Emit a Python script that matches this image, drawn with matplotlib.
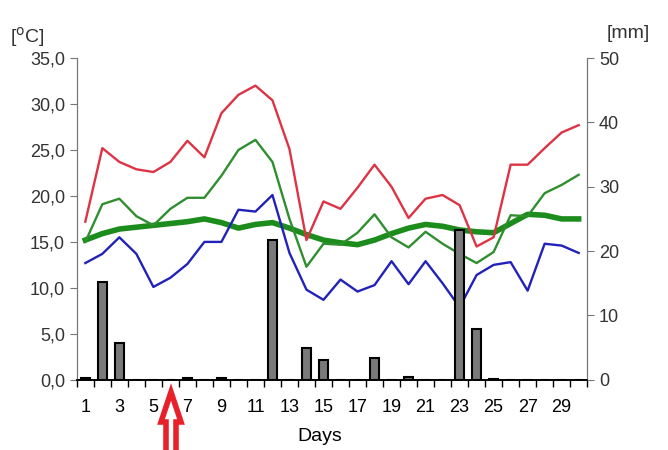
import numpy as np
import matplotlib.pyplot as plt
from matplotlib.patches import FancyArrow

# Daily values
days = list(range(1, 31))
t_max = [17.2, 25.2, 23.7, 22.9, 22.6, 23.7, 26.0, 24.2, 29.0, 31.0,
         32.0, 30.4, 25.1, 15.2, 19.4, 18.6, 20.9, 23.4, 21.0, 17.6,
         19.7, 20.1, 19.0, 14.5, 15.5, 23.4, 23.4, 25.2, 26.9, 27.7]
t_mean = [15.0, 19.1, 19.7, 17.8, 16.8, 18.6, 19.8, 19.8, 22.2, 25.0,
          26.1, 23.7, 17.5, 12.3, 14.8, 14.7, 16.0, 18.0, 15.5, 14.4,
          16.1, 14.8, 13.7, 12.7, 13.9, 17.9, 17.8, 20.3, 21.2, 22.3]
t_min = [12.7, 13.7, 15.5, 13.7, 10.1, 11.1, 12.6, 15.0, 15.0, 18.5,
         18.3, 20.1, 13.8, 9.8, 8.7, 10.9, 9.6, 10.3, 12.9, 10.4,
         12.9, 10.5, 7.9, 11.4, 12.5, 12.8, 9.7, 14.8, 14.6, 13.8]
t_longterm = [15.2, 15.9, 16.4, 16.6, 16.8, 17.0, 17.2, 17.5, 17.1, 16.5,
              16.9, 17.1, 16.5, 15.8, 15.2, 14.9, 14.7, 15.2, 15.9, 16.5,
              16.9, 16.7, 16.3, 16.1, 16.0, 17.0, 18.0, 17.9, 17.5, 17.5]
precip = [0.3, 15.2, 5.7, 0, 0, 0, 0.3, 0, 0.3, 0,
          0, 21.7, 0, 5.0, 3.0, 0, 0, 3.4, 0, 0.4,
          0, 0, 23.3, 7.9, 0.2, 0, 0, 0, 0, 0]

temp_ticks = [0, 5, 10, 15, 20, 25, 30, 35]
mm_ticks = [0, 10, 20, 30, 40, 50]

plt.rcParams["font.family"] = ["Liberation Sans", "DejaVu Sans"]

fig = plt.figure(figsize=(6.68, 4.5), dpi=100)
ax = fig.add_axes([0.115, 0.156, 0.764, 0.715])
ax2 = ax.twinx()

ax.plot(days, t_longterm, color="#1c8c1c", lw=4, zorder=2)
ax.plot(days, t_max, color="#dd3344", lw=1.7, zorder=3)
ax.plot(days, t_mean, color="#2f8f2f", lw=1.7, zorder=3)
ax.plot(days, t_min, color="#2222bb", lw=1.7, zorder=3)

ax2.bar(days, precip, width=0.5, color="#7a7a7a", edgecolor="black", lw=1.5)

ax.set_xlim(0.5, 30.5)
ax.set_ylim(0, 35)
ax2.set_ylim(0, 50)

ax.set_yticks(temp_ticks)
ax.set_yticklabels([f"{t:.1f}".replace(".", ",") for t in temp_ticks])
ax2.set_yticks(mm_ticks)

# ticks between days, labels on odd days
ax.set_xticks(np.arange(0.5, 31, 1))
ax.set_xticklabels([])
ax.set_xticks(days[::2], minor=True)
ax.set_xticklabels([str(d) for d in days[::2]], minor=True)
ax.tick_params(axis="x", which="major", length=5, width=1, color="black")
ax.tick_params(axis="x", which="minor", length=0, labelsize=13, pad=14)
ax.tick_params(axis="y", length=5, color="#777777", labelsize=13, labelcolor="#333333")
ax2.tick_params(axis="y", length=5, color="#777777", labelsize=13, labelcolor="#333333")

for a in (ax, ax2):
    a.spines["top"].set_visible(False)
    a.spines["left"].set_color("#777777")
    a.spines["right"].set_color("#777777")
    a.spines["bottom"].set_color("black")
    a.spines["bottom"].set_linewidth(1.2)

ax.set_xlabel("Days", fontsize=14)
ax.xaxis.set_label_coords(0.476, -0.15)
fig.text(0.015, 0.905, r"[$^{\mathrm{o}}$C]", fontsize=14, color="#333333")
fig.text(0.908, 0.915, "[mm]", fontsize=14, color="#333333")

# red arrow below day 6
arrow = FancyArrow(171 / 668, -4 / 450, 0, 62 / 450, width=10 / 668,
                   head_width=20 / 668, head_length=30 / 450,
                   length_includes_head=True, transform=fig.transFigure,
                   facecolor="white", edgecolor="#e8202a", lw=4)
fig.patches.append(arrow)

fig.savefig("out.png", dpi=100)
